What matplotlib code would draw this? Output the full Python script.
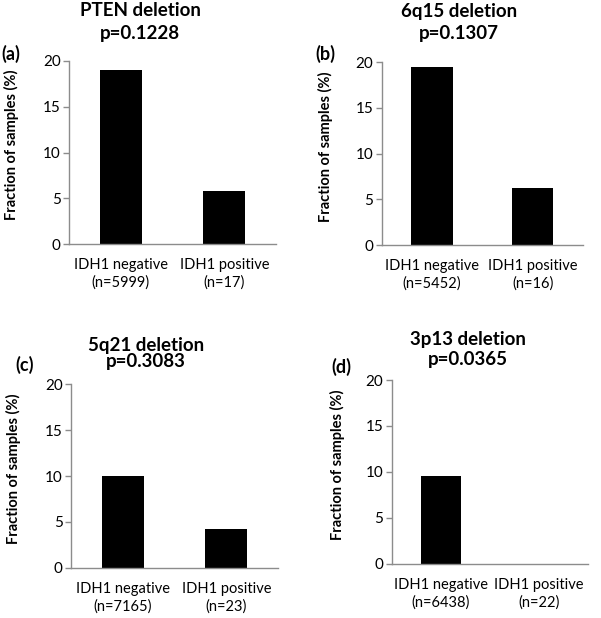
import matplotlib.pyplot as plt

# data
groups = ['IDH1 negative', 'IDH1 positive']
titles = ['PTEN deletion', '6q15 deletion', '5q21 deletion', '3p13 deletion']
pvalues = ['p=0.1228', 'p=0.1307', 'p=0.3083', 'p=0.0365']
panel_tags = ['(a)', '(b)', '(c)', '(d)']
n_negative = [5999, 5452, 7165, 6438]
n_positive = [17, 16, 23, 22]
frac_negative = [19.0, 19.5, 10.0, 9.5]
frac_positive = [5.8, 6.3, 4.2, 0.0]

plt.rcParams['font.family'] = ['Lato', 'DejaVu Sans']

W, H = 601, 618
fig = plt.figure(figsize=(W / 100, H / 100), dpi=100)

# axes boxes in pixels: left, top, right, bottom
boxes = [(69, 61, 276, 244), (381.7, 62, 583, 245.3),
         (71, 384.3, 278, 567.7), (391.7, 380, 588, 563.7)]
# title line centres (x, y line1, y line2), tag centre
title_pos = [(140, 11, 34), (459, 11, 33), (146, 346, 362), (468, 339, 360)]
tag_pos = [(11, 54), (325, 54), (25, 365), (341, 367)]

axis_grey = '#8c8c8c'

for i in range(4):
    l, t, r, b = boxes[i]
    ax = fig.add_axes([l / W, 1 - b / H, (r - l) / W, (b - t) / H])
    ax.bar([0, 1], [frac_negative[i], frac_positive[i]], width=0.41,
           color='black', linewidth=0)
    ax.set_xlim(-0.5, 1.5)
    ax.set_ylim(0, 20)
    ax.set_yticks([0, 5, 10, 15, 20])
    ax.set_xticks([0, 1])
    ax.set_xticklabels(['{}\n(n={})'.format(groups[0], n_negative[i]),
                        '{}\n(n={})'.format(groups[1], n_positive[i])],
                       linespacing=1.3)
    for side in ['top', 'right']:
        ax.spines[side].set_visible(False)
    for side in ['left', 'bottom']:
        ax.spines[side].set_color(axis_grey)
        ax.spines[side].set_linewidth(1.0)
    ax.tick_params(axis='x', length=0, pad=10, labelsize=10.5, colors='black')
    ax.tick_params(axis='y', length=4, width=1.0, color=axis_grey, pad=2,
                   labelsize=11)
    ax.set_ylabel('Fraction of samples (%)', fontsize=10.5, fontweight='bold')
    ax.yaxis.set_label_coords(-0.24, 0.54)

    tx, y1, y2 = title_pos[i]
    fig.text(tx / W, 1 - y1 / H, titles[i], ha='center', va='center',
             fontsize=13.5, fontweight='bold')
    fig.text(tx / W, 1 - y2 / H, pvalues[i], ha='center', va='center',
             fontsize=13.5, fontweight='bold')
    px, py = tag_pos[i]
    fig.text(px / W, 1 - py / H, panel_tags[i], ha='center', va='center',
             fontsize=13, fontweight='bold')

fig.savefig('out.png', dpi=100)
